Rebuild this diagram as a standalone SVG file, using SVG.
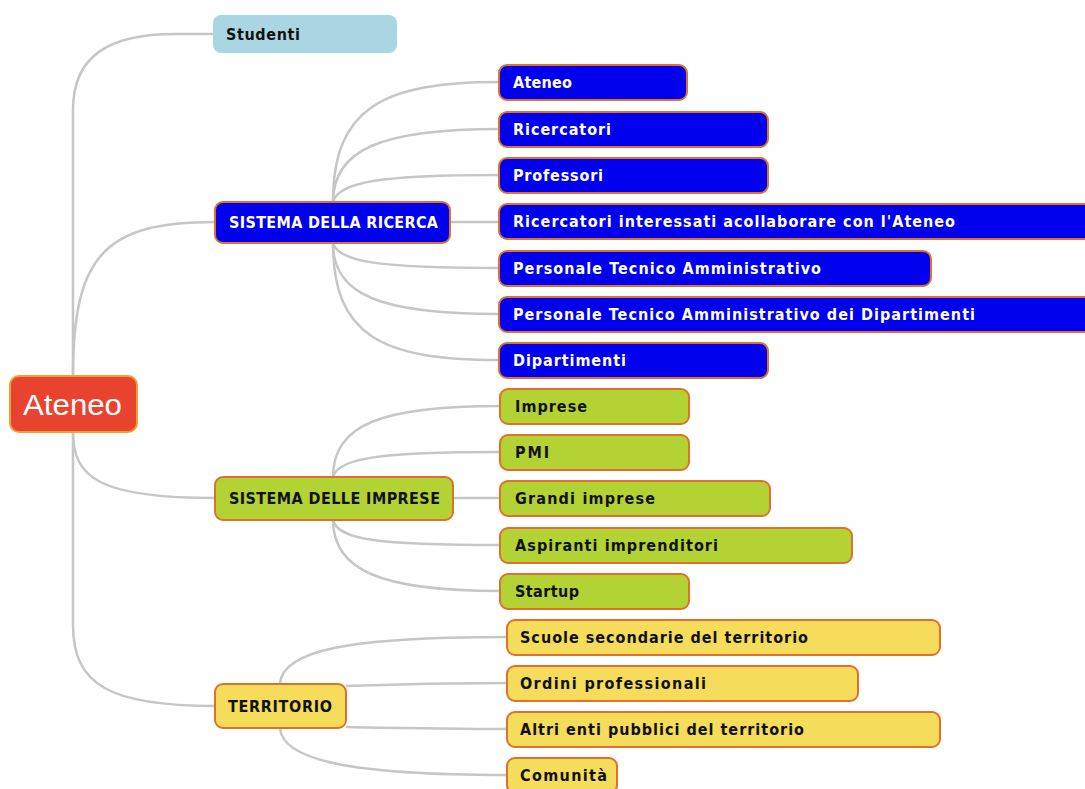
<svg xmlns="http://www.w3.org/2000/svg" width="1085" height="789" viewBox="0 0 1085 789">
<style>
.c{fill:none;stroke:#c6c6c6;stroke-width:2.5}
.b{fill:#0000ee;stroke:#e0702c;stroke-width:2}
.g{fill:#b3d234;stroke:#e0702c;stroke-width:2}
.y{fill:#f5dc5a;stroke:#e0702c;stroke-width:2}
.t{font-family:"DejaVu Sans Condensed","DejaVu Sans","Liberation Sans",sans-serif;font-weight:bold;font-size:16px}
.w{fill:#ffffff}
.k{fill:#111111}
</style>
<rect width="1085" height="789" fill="#ffffff"/>
<g id="connectors">
<path class="c" d="M73,376 V110 C73,55 110,34 175,34 H213"/>
<path class="c" d="M73,376 C73,255 105,222 215,222"/>
<path class="c" d="M73,432 C73,478 100,498 215,498"/>
<path class="c" d="M73,432 V625 C73,685 110,706 215,706"/>
<path class="c" d="M333,202 C333,110 380,82 499,82"/>
<path class="c" d="M333,202 C333,150 380,129 499,129"/>
<path class="c" d="M333,202 C338,182 380,175 499,175"/>
<path class="c" d="M450,222 H499"/>
<path class="c" d="M333,243 C338,262 380,268 499,268"/>
<path class="c" d="M333,243 C333,295 380,314 499,314"/>
<path class="c" d="M333,243 C333,335 380,360 499,360"/>
<path class="c" d="M333,477 C333,425 380,406 500,406"/>
<path class="c" d="M333,477 C338,458 380,452 500,452"/>
<path class="c" d="M453,498 H500"/>
<path class="c" d="M333,520 C338,540 380,545 500,545"/>
<path class="c" d="M333,520 C333,570 380,591 500,591"/>
<path class="c" d="M280,684 C282,650 350,637 507,637"/>
<path class="c" d="M346,686 C400,684 450,683 507,683"/>
<path class="c" d="M346,727 C400,728 450,729 507,729"/>
<path class="c" d="M280,728 C282,760 350,775 507,775"/>
</g>
<g id="root">
<rect x="10" y="376" width="127" height="56" rx="9" fill="#e8432f" stroke="#f0a030" stroke-width="2"/>
<text x="23" y="415" font-family="'Liberation Sans',Arial,sans-serif" font-size="30" fill="#ffffff" textLength="99" lengthAdjust="spacingAndGlyphs">Ateneo</text>
</g>
<g id="studenti">
<rect x="213" y="15" width="184" height="38" rx="8" fill="#a9d6e2"/>
<text class="t k" x="226" y="40" textLength="74">Studenti</text>
</g>
<g id="sistema-ricerca">
<rect class="b" x="215" y="202" width="235" height="41" rx="8"/>
<text class="t w" x="229" y="228" textLength="209">SISTEMA DELLA RICERCA</text>
</g>
<g id="r-ateneo">
<rect class="b" x="499" y="65" width="188" height="35" rx="8"/>
<text class="t w" x="513" y="88" textLength="59">Ateneo</text>
</g>
<g id="r-ricercatori">
<rect class="b" x="499" y="112" width="269" height="35" rx="8"/>
<text class="t w" x="513" y="135" textLength="98">Ricercatori</text>
</g>
<g id="r-professori">
<rect class="b" x="499" y="158" width="269" height="35" rx="8"/>
<text class="t w" x="513" y="181" textLength="90">Professori</text>
</g>
<g id="r-interessati">
<rect class="b" x="499" y="204" width="600" height="35" rx="8"/>
<text class="t w" x="513" y="227" textLength="442">Ricercatori interessati acollaborare con l'Ateneo</text>
</g>
<g id="r-pta">
<rect class="b" x="499" y="251" width="432" height="35" rx="8"/>
<text class="t w" x="513" y="274" textLength="308">Personale Tecnico Amministrativo</text>
</g>
<g id="r-pta-dip">
<rect class="b" x="499" y="297" width="600" height="35" rx="8"/>
<text class="t w" x="513" y="320" textLength="462">Personale Tecnico Amministrativo dei Dipartimenti</text>
</g>
<g id="r-dipartimenti">
<rect class="b" x="499" y="343" width="269" height="35" rx="8"/>
<text class="t w" x="513" y="366" textLength="113">Dipartimenti</text>
</g>
<g id="sistema-imprese">
<rect class="g" x="215" y="477" width="238" height="43" rx="8"/>
<text class="t k" x="229" y="504" textLength="211">SISTEMA DELLE IMPRESE</text>
</g>
<g id="i-imprese">
<rect class="g" x="500" y="389" width="189" height="35" rx="8"/>
<text class="t k" x="515" y="412" textLength="72">Imprese</text>
</g>
<g id="i-pmi">
<rect class="g" x="500" y="435" width="189" height="35" rx="8"/>
<text class="t k" x="515" y="458" textLength="34">PMI</text>
</g>
<g id="i-grandi">
<rect class="g" x="500" y="481" width="270" height="35" rx="8"/>
<text class="t k" x="515" y="504" textLength="140">Grandi imprese</text>
</g>
<g id="i-aspiranti">
<rect class="g" x="500" y="528" width="352" height="35" rx="8"/>
<text class="t k" x="515" y="551" textLength="203">Aspiranti imprenditori</text>
</g>
<g id="i-startup">
<rect class="g" x="500" y="574" width="189" height="35" rx="8"/>
<text class="t k" x="515" y="597" textLength="64">Startup</text>
</g>
<g id="territorio">
<rect class="y" x="215" y="684" width="131" height="44" rx="8"/>
<text class="t k" x="228" y="712" textLength="104">TERRITORIO</text>
</g>
<g id="t-scuole">
<rect class="y" x="507" y="620" width="433" height="35" rx="8"/>
<text class="t k" x="520" y="643" textLength="288">Scuole secondarie del territorio</text>
</g>
<g id="t-ordini">
<rect class="y" x="507" y="666" width="351" height="35" rx="8"/>
<text class="t k" x="520" y="689" textLength="186">Ordini professionali</text>
</g>
<g id="t-altri">
<rect class="y" x="507" y="712" width="433" height="35" rx="8"/>
<text class="t k" x="520" y="735" textLength="284">Altri enti pubblici del territorio</text>
</g>
<g id="t-comunita">
<rect class="y" x="507" y="758" width="110" height="35" rx="8"/>
<text class="t k" x="520" y="781" textLength="87">Comunità</text>
</g>
</svg>
